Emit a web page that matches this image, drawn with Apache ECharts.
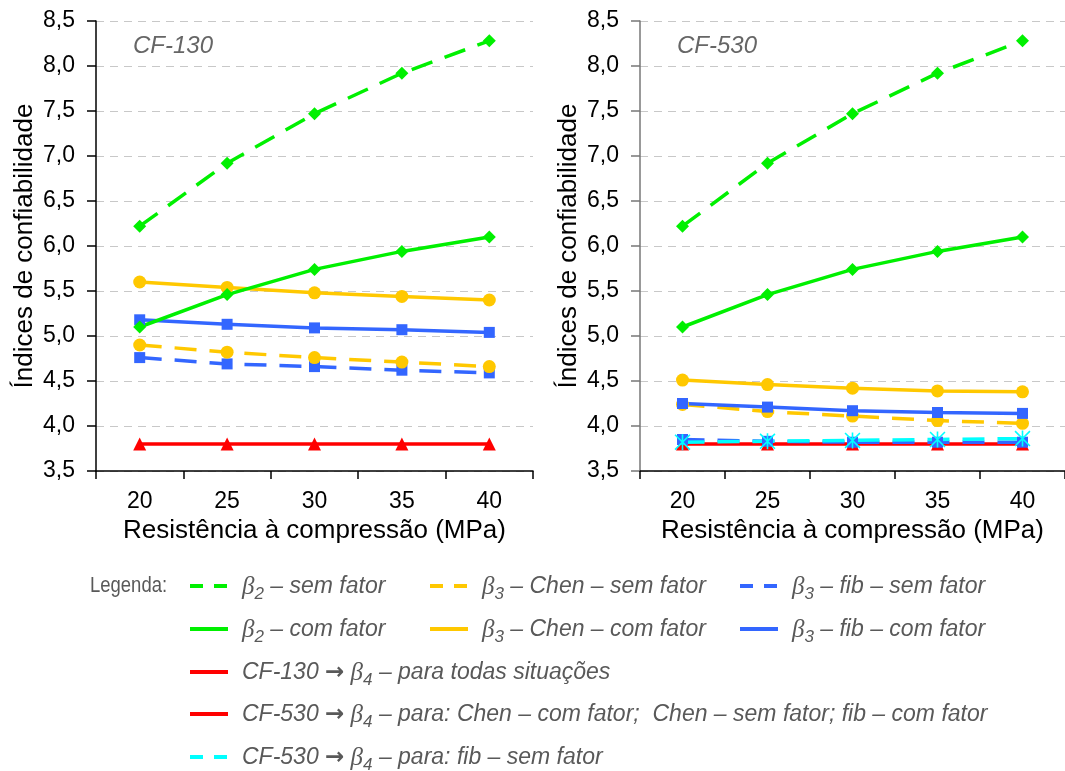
<!DOCTYPE html>
<html><head><meta charset="utf-8">
<script src="https://cdn.jsdelivr.net/npm/echarts@6/dist/echarts.min.js"></script>
<style>html,body{margin:0;padding:0;background:#fff}#c{width:1065px;height:771px}</style>
</head><body><div id="c"></div>
<script>
const categories = ['20','25','30','35','40'];
// CF-130
const cf130_b2_sem   = [6.22, 6.92, 7.47, 7.92, 8.28];
const cf130_b2_com   = [5.10, 5.46, 5.74, 5.94, 6.10];
const cf130_chen_com = [5.60, 5.54, 5.48, 5.44, 5.40];
const cf130_chen_sem = [4.90, 4.82, 4.76, 4.71, 4.66];
const cf130_fib_com  = [5.18, 5.13, 5.09, 5.07, 5.04];
const cf130_fib_sem  = [4.76, 4.69, 4.66, 4.62, 4.59];
const cf130_b4       = [3.80, 3.80, 3.80, 3.80, 3.80];
// CF-530
const cf530_b2_sem   = [6.22, 6.92, 7.47, 7.92, 8.28];
const cf530_b2_com   = [5.10, 5.46, 5.74, 5.94, 6.10];
const cf530_chen_com = [4.51, 4.46, 4.42, 4.39, 4.38];
const cf530_chen_sem = [4.24, 4.16, 4.11, 4.06, 4.03];
const cf530_fib_com  = [4.25, 4.21, 4.17, 4.15, 4.14];
const cf530_fib_sem  = [3.85, 3.83, 3.82, 3.82, 3.82];
const cf530_b4       = [3.80, 3.80, 3.80, 3.80, 3.80];
const cf530_b4_fibsem= [3.82, 3.83, 3.84, 3.85, 3.86];
const yTicks = {min: 3.5, max: 8.5, step: 0.5};
const panelTitles = ['CF-130', 'CF-530'];

const GREEN = '#00f000', YELLOW = '#ffc800', BLUE = '#3366ff', RED = '#ff0000', CYAN = '#00ffff';
const ASTER = 'path://M9,0 L11,0 L11,20 L9,20 Z M0,1.4 L1.4,0 L20,18.6 L18.6,20 Z M18.6,0 L20,1.4 L1.4,20 L0,18.6 Z';

function mk(name, data, idx, color, dashed, symbol, size) {
  return {
    name, type: 'line', data, xAxisIndex: idx, yAxisIndex: idx,
    symbol, symbolSize: size, showSymbol: true,
    lineStyle: {color, width: 3.5, type: dashed ? [22, 13] : 'solid'},
    itemStyle: {color}, animation: false
  };
}
const series = [
  mk('a1', cf130_b4, 0, RED, false, 'triangle', 13),
  mk('a2', cf130_fib_sem, 0, BLUE, true, 'rect', 11),
  mk('a3', cf130_chen_sem, 0, YELLOW, true, 'circle', 13),
  mk('a4', cf130_fib_com, 0, BLUE, false, 'rect', 11),
  mk('a5', cf130_chen_com, 0, YELLOW, false, 'circle', 13),
  mk('a6', cf130_b2_com, 0, GREEN, false, 'diamond', 13),
  mk('a7', cf130_b2_sem, 0, GREEN, true, 'diamond', 13),
  mk('b1', cf530_b4, 1, RED, false, 'triangle', 13),
  mk('b2', cf530_fib_sem, 1, BLUE, true, 'rect', 11),
  mk('b8', cf530_b4_fibsem, 1, CYAN, true, ASTER, 16),
  mk('b3', cf530_chen_sem, 1, YELLOW, true, 'circle', 13),
  mk('b4', cf530_fib_com, 1, BLUE, false, 'rect', 11),
  mk('b5', cf530_chen_com, 1, YELLOW, false, 'circle', 13),
  mk('b6', cf530_b2_com, 1, GREEN, false, 'diamond', 13),
  mk('b7', cf530_b2_sem, 1, GREEN, true, 'diamond', 13),
];

const FONT = 'Liberation Sans, Arial, sans-serif';
function xAx(i) {
  return {
    type: 'category', gridIndex: i, data: categories, boundaryGap: true,
    axisLine: {lineStyle: {color: '#000', width: 1.5}},
    axisTick: {show: true, length: 8, lineStyle: {color: '#000', width: 1.5}},
    axisLabel: {fontSize: 23, color: '#000', margin: 19, fontFamily: FONT},
    name: 'Resistência à compressão (MPa)', nameLocation: 'middle', nameGap: 47,
    nameTextStyle: {fontSize: 26, color: '#000', fontFamily: FONT}
  };
}
function yAx(i) {
  const ac = i === 0 ? '#000' : '#777';
  return {
    type: 'value', gridIndex: i, min: yTicks.min, max: yTicks.max, interval: yTicks.step,
    axisLine: {show: true, lineStyle: {color: ac, width: 1.5}},
    axisTick: {show: true, length: 9, lineStyle: {color: ac, width: 1.5}},
    splitLine: {show: true, lineStyle: {color: '#c8c8c8', type: [8, 6], width: 1}},
    axisLabel: {fontSize: 23, color: '#000', margin: 21, fontFamily: FONT,
      formatter: v => v.toFixed(1).replace('.', ',')},
    name: 'Índices de confiabilidade', nameLocation: 'middle', nameGap: 58,
    nameTextStyle: {fontSize: 26, color: '#000', fontFamily: FONT}
  };
}

const TXT = '#595959';
const rich = {
  t: {fontSize: 23, fontStyle: 'italic', color: TXT, fontFamily: FONT},
  a: {fontSize: 23, fontWeight: 'bold', color: TXT, fontFamily: 'DejaVu Sans, sans-serif'},
  b: {fontSize: 25, fontStyle: 'italic', color: TXT, fontFamily: 'Liberation Serif, serif'},
  s: {fontSize: 17, fontStyle: 'italic', color: TXT, fontFamily: FONT, padding: [14, 0, 0, 0]}
};
function legItem(x, y, color, dashed, text) {
  return [
    {type: 'line', shape: {x1: x, y1: y, x2: x + 38, y2: y},
     style: {stroke: color, lineWidth: 4, lineDash: dashed ? [13, 11] : null}},
    {type: 'text', x: x + 52, y: y + 1, style: {text, rich, verticalAlign: 'middle', font: 'italic 23px ' + FONT, fill: TXT}}
  ];
}
const rows = [586, 629, 672, 714, 757];
const cols = [190, 430, 740];
let graphics = [
  {type: 'text', x: 90, y: rows[0], scaleX: 0.84, style: {text: 'Legenda:', font: '22px ' + FONT, fill: TXT, verticalAlign: 'middle'}},
  {type: 'text', x: 133, y: 46, style: {text: panelTitles[0], font: 'italic 24px ' + FONT, fill: '#666', verticalAlign: 'middle'}},
  {type: 'text', x: 677, y: 46, style: {text: panelTitles[1], font: 'italic 24px ' + FONT, fill: '#666', verticalAlign: 'middle'}},
];
graphics = graphics.concat(
  legItem(cols[0], rows[0], GREEN, true, '{b|β}{s|2}{t| – sem fator}'),
  legItem(cols[1], rows[0], YELLOW, true, '{b|β}{s|3}{t| – Chen – sem fator}'),
  legItem(cols[2], rows[0], BLUE, true, '{b|β}{s|3}{t| – fib – sem fator}'),
  legItem(cols[0], rows[1], GREEN, false, '{b|β}{s|2}{t| – com fator}'),
  legItem(cols[1], rows[1], YELLOW, false, '{b|β}{s|3}{t| – Chen – com fator}'),
  legItem(cols[2], rows[1], BLUE, false, '{b|β}{s|3}{t| – fib – com fator}'),
  legItem(cols[0], rows[2], RED, false, '{t|CF-130 }{a|→}{b| β}{s|4}{t| – para todas situações}'),
  legItem(cols[0], rows[3], RED, false, '{t|CF-530 }{a|→}{b| β}{s|4}{t| – para: Chen – com fator;  Chen – sem fator; fib – com fator}'),
  legItem(cols[0], rows[4], CYAN, true, '{t|CF-530 }{a|→}{b| β}{s|4}{t| – para: fib – sem fator}')
);

const chart = echarts.init(document.getElementById('c'), null, {renderer: 'canvas'});
chart.setOption({
  backgroundColor: '#fff',
  animation: false,
  grid: [
    {left: 96, top: 21, width: 437, height: 450},
    {left: 640, top: 21, width: 437, height: 450}
  ],
  xAxis: [xAx(0), xAx(1)],
  yAxis: [yAx(0), yAx(1)],
  series,
  graphic: graphics
});
</script></body></html>
